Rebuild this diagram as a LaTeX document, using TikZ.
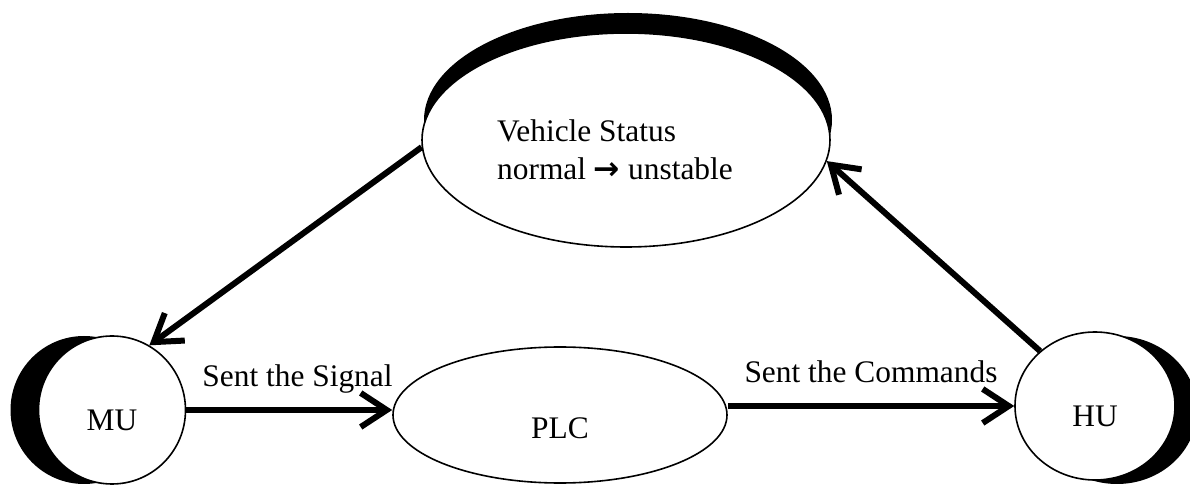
\documentclass[tikz,border=0pt]{standalone}
\usepackage{fontspec}
\setmainfont{Liberation Serif}
\newfontfamily\arrowfont{DejaVu Sans}
\usetikzlibrary{shapes.geometric,arrows.meta,shadows}
\tikzset{
  unit/.style={draw,ellipse,line width=0.8pt,fill=white,inner sep=0pt,
    text height=2em,text depth=0pt},
  link/.style={line width=3pt,-{Straight Barb[length=13pt,width=17pt]}},
  lbl/.style={above=6pt,text depth=.22em,inner sep=2pt}
}
\begin{document}
\begin{tikzpicture}[x=0.5pt,y=-0.5pt,font=\fontsize{15.7}{19}\selectfont]
\useasboundingbox (0,0) rectangle (1190,486);
% units
\node[unit,minimum width=204pt,minimum height=107pt,
  drop shadow={shadow xshift=1pt,shadow yshift=10pt,fill=black,opacity=1}]
  (status) at (626,140) {};
\node[align=left,inner sep=0pt] (statustext) at (615,150)
  {Vehicle Status\\normal {\arrowfont\bfseries →} unstable};
\node[unit,minimum width=73.5pt,minimum height=74pt,
  drop shadow={shadow xshift=-14pt,shadow yshift=0pt,fill=black,opacity=1}]
  (mu) at (112,410) {MU};
\node[unit,minimum width=80pt,minimum height=74pt,text height=2.1em,
  drop shadow={shadow xshift=11pt,shadow yshift=-2pt,fill=black,opacity=1}]
  (hu) at (1095,406) {HU};
\node[unit,minimum width=167pt,minimum height=68pt,text height=2.4em] (plc) at (560,415) {PLC};
% signal flow
\draw[link] (mu.east) -- (plc.west |- mu.east) node[lbl,pos=.54] (signal) {Sent the Signal};
\draw[link] (plc.east |- hu.west) -- (hu.west) node[lbl,midway] (commands) {Sent the Commands};
\draw[link] (hu.135) -- (status.-6);
\draw[link] (status.182) -- (mu.60);
\end{tikzpicture}
\end{document}
